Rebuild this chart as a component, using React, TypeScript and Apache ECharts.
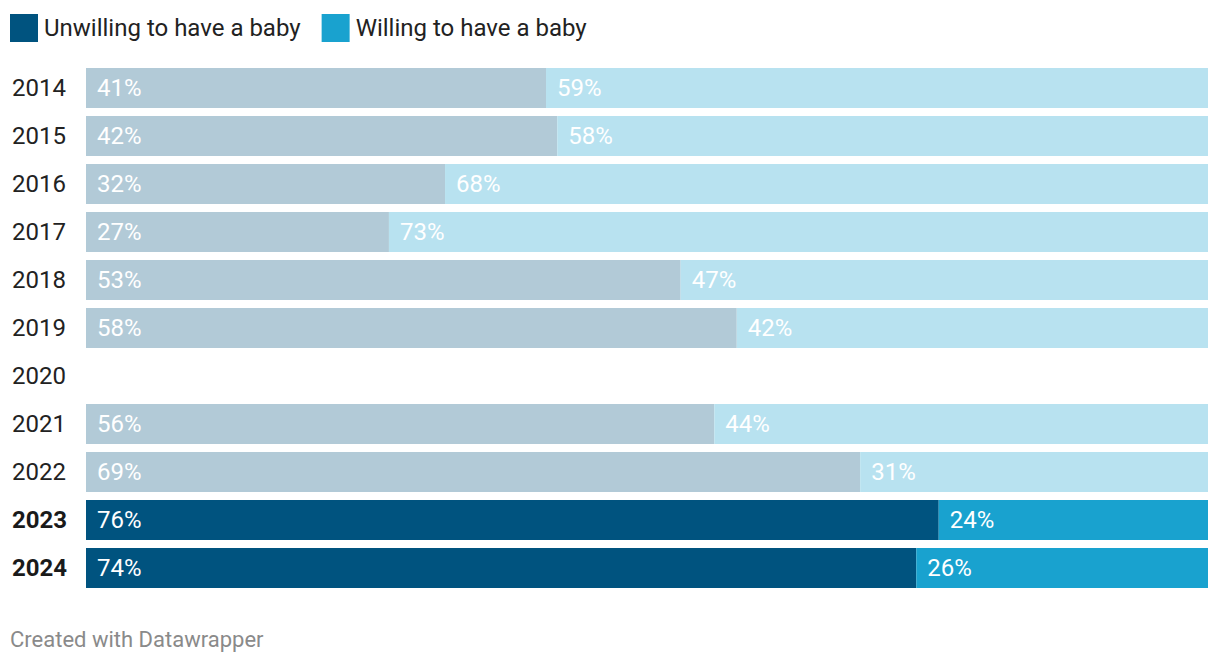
import React, { useEffect, useRef } from "react";
import * as echarts from "echarts";

const years = ["2014", "2015", "2016", "2017", "2018", "2019", "2020", "2021", "2022", "2023", "2024"];
const unwilling = [41, 42, 32, 27, 53, 58, null, 56, 69, 76, 74];
const willing = [59, 58, 68, 73, 47, 42, null, 44, 31, 24, 26];
const highlighted = ["2023", "2024"];

const DARK = "#00537f";
const LIGHT = "#19a2cf";
const DARK_FADED = "#b2cad7";
const LIGHT_FADED = "#b8e2f0";

export default function App() {
  const ref = useRef<HTMLDivElement>(null);
  useEffect(() => {
    document.body.style.margin = "0";
    const chart = echarts.init(ref.current!, null, { renderer: "svg" });
    const mk = (vals: (number | null)[], strong: string, faded: string) =>
      vals.map((v, i) => ({
        value: v,
        itemStyle: { color: highlighted.includes(years[i]) ? strong : faded },
      }));
    const label = {
      show: true,
      position: "insideLeft",
      distance: 11,
      color: "#ffffff",
      fontSize: 24,
      fontFamily: "Roboto",
      formatter: (p: any) => (p.value == null ? "" : p.value + "%"),
    };
    chart.setOption({
      animation: false,
      textStyle: { fontFamily: "Roboto" },
      legend: {
        left: 5,
        top: 9,
        itemWidth: 28,
        itemHeight: 28,
        itemGap: 21,
        icon: "rect",
        textStyle: { fontSize: 24, color: "#222222", fontFamily: "Roboto", padding: [0, 0, 0, 1] },
        selectedMode: false,
        data: ["Unwilling to have a baby", "Willing to have a baby"],
      },
      grid: { left: 86, right: 12, top: 64, bottom: 74, containLabel: false },
      xAxis: {
        type: "value",
        min: 0,
        max: 100,
        show: false,
      },
      yAxis: {
        type: "category",
        data: years,
        inverse: true,
        axisLine: { show: false },
        axisTick: { show: false },
        axisLabel: {
          align: "left",
          margin: 74,
          fontSize: 24,
          color: "#222222",
          fontFamily: "Roboto",
          formatter: (v: string) => (highlighted.includes(v) ? "{b|" + v + "}" : v),
          rich: { b: { fontWeight: "bold", fontSize: 24, color: "#1a1a1a", fontFamily: "Roboto" } },
        },
      },
      series: [
        {
          name: "Unwilling to have a baby",
          type: "bar",
          stack: "total",
          barWidth: 40,
          itemStyle: { color: DARK },
          label,
          data: mk(unwilling, DARK, DARK_FADED),
        },
        {
          name: "Willing to have a baby",
          type: "bar",
          stack: "total",
          barWidth: 40,
          itemStyle: { color: LIGHT },
          label,
          data: mk(willing, LIGHT, LIGHT_FADED),
        },
      ],
      graphic: [
        {
          type: "text",
          left: 10,
          top: 628,
          style: { text: "Created with Datawrapper", fontSize: 22, fill: "#8a8a8a", fontFamily: "Roboto" },
        },
      ],
    });
    return () => chart.dispose();
  }, []);
  return <div ref={ref} style={{ position: "absolute", left: 0, top: 0, width: 1220, height: 666 }} />;
}
